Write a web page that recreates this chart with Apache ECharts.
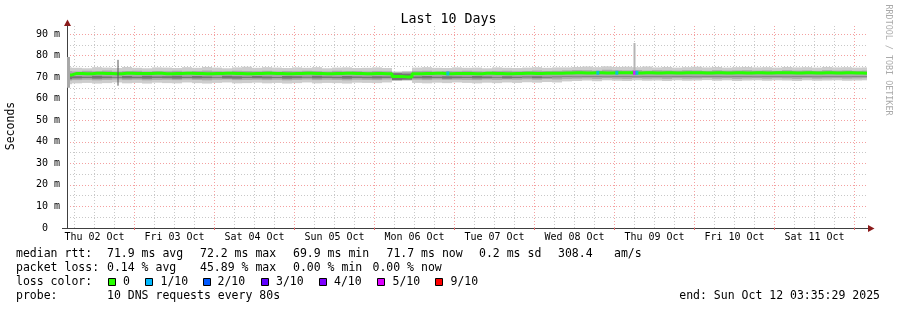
<!DOCTYPE html>
<html><head><meta charset="utf-8">
<script src="https://cdn.jsdelivr.net/npm/echarts@6/dist/echarts.min.js"></script>
<style>html,body{margin:0;padding:0;background:#fff}#c{width:897px;height:310px}</style>
</head><body><div id="c"></div>
<script>
// ---- data (hours since Thu 02 Oct 00:00, one sample every 3 h) ----
const startHour = 3.75, stepHours = 3;
const med = [
71.0, 71.7, 71.6, 71.8, 71.7, 71.6, 71.8, 71.7, 71.7, 71.8,
71.6, 71.7, 71.8, 71.7, 71.6, 71.7, 71.8, 71.7, 71.6, 71.7,
71.8, 71.7, 71.6, 71.7, 71.8, 71.7, 71.6, 71.7, 71.8, 71.7,
71.6, 71.7, 71.6, 70.3, 70.1, 71.6, 71.7, 71.8, 71.6, 71.7,
71.7, 71.6, 71.8, 71.7, 71.6, 71.7, 71.8, 71.7, 71.8, 71.8,
71.9, 72.0, 71.9, 72.0, 71.9, 72.0, 72.0, 71.9, 72.0, 71.9,
72.0, 71.9, 72.0, 72.0, 71.9, 72.0, 71.9, 72.0, 71.9, 72.0,
71.9, 72.0, 72.0, 71.9, 72.0, 71.9, 72.0, 71.9, 72.0, 71.9, 71.8];
const smokeHi = [
74.5, 74.3, 74.1, 74.6, 74.4, 74.2, 74.7, 74.3, 74.1, 74.5,
74.4, 74.2, 74.6, 74.3, 74.7, 74.4, 74.1, 74.5, 74.8, 74.3,
74.6, 74.4, 74.2, 74.5, 74.3, 74.6, 74.1, 74.4, 74.5, 74.2,
74.3, 74.5, 74.2, 72.6, 72.8, 74.4, 74.6, 74.3, 74.2, 74.5,
74.3, 74.4, 74.1, 74.5, 74.3, 74.2, 74.4, 74.6, 74.3, 74.5,
74.5, 74.7, 74.9, 74.6, 75.0, 74.7, 74.8, 74.6, 74.9, 74.5,
74.7, 74.4, 74.6, 74.8, 74.5, 74.7, 74.4, 74.6, 74.7, 74.5,
74.6, 74.4, 74.7, 74.5, 74.6, 74.4, 74.7, 74.5, 74.6, 74.4, 74.5];
const smokeLo = [
66.7, 67.1, 67.3, 67.0, 67.2, 67.5, 67.1, 67.3, 67.0, 67.4,
67.2, 67.1, 67.5, 67.2, 67.0, 67.3, 67.5, 67.1, 67.2, 67.4,
67.1, 67.3, 67.0, 67.2, 67.5, 67.1, 67.3, 67.2, 67.0, 67.4,
67.3, 67.2, 67.5, 68.2, 68.3, 67.3, 67.1, 67.4, 67.2, 67.5,
67.3, 67.1, 67.4, 67.2, 67.5, 67.3, 67.6, 67.4, 67.7, 67.5,
68.0, 68.2, 68.4, 68.1, 68.5, 68.3, 68.2, 68.5, 68.3, 68.4,
68.2, 68.5, 68.3, 68.4, 68.6, 68.3, 68.5, 68.2, 68.4, 68.5,
68.3, 68.5, 68.4, 68.2, 68.5, 68.3, 68.4, 68.5, 68.3, 68.4, 68.5];
const midHi = [
72.8, 72.6, 72.9, 72.7, 73.0, 72.6, 72.8, 72.9, 72.6, 72.8,
72.7, 72.9, 72.6, 72.8, 73.0, 72.7, 72.6, 72.9, 72.8, 72.7,
72.9, 72.6, 72.8, 72.7, 72.9, 72.8, 72.6, 72.9, 72.7, 72.8,
72.6, 72.8, 72.7, 72.2, 72.3, 72.8, 72.9, 72.6, 72.8, 72.7,
72.9, 72.7, 72.6, 72.8, 72.9, 72.7, 72.8, 73.0, 72.8, 72.9,
73.1, 73.3, 73.2, 73.0, 73.4, 73.2, 73.1, 73.3, 73.0, 73.2,
73.1, 73.0, 73.2, 73.1, 72.9, 73.2, 73.0, 73.1, 73.2, 73.0,
73.1, 72.9, 73.2, 73.0, 73.1, 72.9, 73.2, 73.0, 73.1, 72.9, 73.0];
const midLo = [
68.4, 68.6, 68.8, 68.5, 68.7, 68.9, 68.6, 68.8, 68.5, 68.7,
68.8, 68.6, 68.9, 68.7, 68.5, 68.8, 68.9, 68.6, 68.7, 68.8,
68.6, 68.8, 68.5, 68.7, 68.9, 68.6, 68.8, 68.7, 68.5, 68.8,
68.7, 68.6, 68.9, 68.6, 68.7, 68.8, 68.6, 68.9, 68.7, 68.8,
68.7, 68.6, 68.9, 68.7, 68.9, 68.8, 69.0, 68.8, 69.1, 68.9,
69.2, 69.3, 69.4, 69.2, 69.5, 69.3, 69.2, 69.5, 69.3, 69.4,
69.2, 69.5, 69.3, 69.4, 69.6, 69.3, 69.5, 69.2, 69.4, 69.5,
69.3, 69.5, 69.4, 69.2, 69.5, 69.3, 69.4, 69.5, 69.3, 69.4, 69.5];
const darkHi = [
71.0, 70.4, 70.2, 70.6, 70.3, 70.1, 70.5, 70.2, 70.6, 70.3,
70.4, 70.6, 70.2, 70.5, 70.3, 70.1, 70.6, 70.4, 70.2, 70.5,
70.3, 70.1, 70.5, 70.4, 70.2, 70.6, 70.3, 70.2, 70.5, 70.3,
70.2, 70.4, 70.3, 71.8, 71.6, 70.3, 70.5, 70.2, 70.4, 70.3,
70.2, 70.5, 70.3, 70.1, 70.4, 70.2, 70.3, 70.4, 70.2, 70.3,
70.4, 70.3, 70.5, 70.4, 70.3, 70.5, 70.4, 70.3, 70.5, 70.4,
70.3, 70.5, 70.4, 70.3, 70.5, 70.4, 70.3, 70.5, 70.4, 70.3,
70.5, 70.4, 70.3, 70.5, 70.4, 70.3, 70.5, 70.4, 70.3, 70.5, 70.4];
const darkLo = [
69.0, 69.4, 69.6, 69.3, 69.5, 69.7, 69.4, 69.5, 69.3, 69.6,
69.5, 69.3, 69.6, 69.4, 69.5, 69.7, 69.4, 69.3, 69.6, 69.5,
69.4, 69.6, 69.3, 69.5, 69.7, 69.4, 69.6, 69.5, 69.3, 69.6,
69.5, 69.4, 69.6, 68.6, 68.8, 69.5, 69.4, 69.6, 69.3, 69.5,
69.6, 69.4, 69.5, 69.7, 69.4, 69.6, 69.8, 69.5, 69.7, 69.9,
70.1, 70.0, 70.2, 70.1, 70.0, 70.2, 70.1, 70.0, 70.2, 70.1,
70.0, 70.2, 70.1, 70.0, 70.2, 70.1, 70.0, 70.2, 70.1, 70.0,
70.2, 70.1, 70.0, 70.2, 70.1, 70.0, 70.2, 70.1, 70.0, 70.2, 70.1];
// single-sample outliers
const spikeHours = [4.2, 19.05, 174.0];
const spikeLo = [65.0, 66.0, 71.0];
const spikeHi = [79.3, 78.0, 85.8];
// loss events on the median line
const lossHours = [118.0, 163.0, 168.7, 174.0, 174.7];
const lossRtt = [71.7, 72.0, 72.0, 72.0, 72.0];
const lossLevel = ['1/10', '1/10', '1/10', '5/10', '1/10'];
// legend / axis labels
const lossNames = ['0', '1/10', '2/10', '3/10', '4/10', '5/10', '9/10'];
const lossColors = ['#26ff00', '#00b8ff', '#0059ff', '#5e00ff', '#7e00ff', '#dd00ff', '#ff0000'];
const dayLabels = ['Thu 02 Oct','Fri 03 Oct','Sat 04 Oct','Sun 05 Oct','Mon 06 Oct','Tue 07 Oct','Wed 08 Oct','Thu 09 Oct','Fri 10 Oct','Sat 11 Oct'];
const noonHours = [12, 36, 60, 84, 108, 132, 156, 180, 204, 228];
const midnightHours = [24, 48, 72, 96, 120, 144, 168, 192, 216, 240];
const rttStats = ['71.9 ms avg', '72.2 ms max', '69.9 ms min', '71.7 ms now', '0.2 ms sd', '308.4', 'am/s'];
const lossStats = ['0.14 % avg', '45.89 % max', '0.00 % min', '0.00 % now'];
const probeText = '10 DNS requests every 80s';
const endText = 'end: Sun Oct 12 03:35:29 2025';

// ---- build ----
const hours = med.map((_, i) => startHour + stepHours * i);
const MONO = '"DejaVu Sans Mono", monospace';
const MAJOR = '#f4a0a0', MINOR = '#c8c8c8';

const vGrid = [];
for (let h = 6; h < startHour + 240; h += 6) vGrid.push({ xAxis: h, lineStyle: { color: h % 24 === 0 ? MAJOR : MINOR, type: [1, 2], width: 1 } });

function band(lo, hi, color) {
  return {
    type: 'custom', silent: true,
    data: hours.map((h, i) => [h, lo[i], hi[i]]),
    encode: { x: 0, y: [1, 2] },
    renderItem: (params, api) => {
      const h = api.value(0);
      const p1 = api.coord([h - stepHours / 2, api.value(2)]);
      const p2 = api.coord([h + stepHours / 2, api.value(1)]);
      const shape = echarts.graphic.clipRectByRect(
        { x: p1[0], y: p1[1], width: p2[0] - p1[0], height: p2[1] - p1[1] },
        { x: params.coordSys.x, y: params.coordSys.y, width: params.coordSys.width, height: params.coordSys.height });
      return shape && { type: 'rect', shape, style: { fill: color } };
    }
  };
}
const series = [];
series.push(band(smokeLo, smokeHi, '#cdcdcd'), band(midLo, midHi, '#a9a9a9'), band(darkLo, darkHi, '#747474'));
series.push({ type: 'line', data: hours.map((h, i) => [h, med[i]]), symbol: 'none', step: 'middle', silent: true,
  lineStyle: { color: '#26ff00', width: 3 },
  markLine: { z: 1, silent: true, symbol: ['none', 'none'], label: { show: false }, animation: false, data: vGrid } });
const spikeStyles = [{ color: '#a8a8a8', width: 3 }, { color: '#555555', width: 1 }, { color: '#b4b4b4', width: 2 }];
spikeHours.forEach((h, i) => series.push({ type: 'line', symbol: 'none', silent: true, data: [[h, spikeLo[i]], [h, spikeHi[i]]], lineStyle: spikeStyles[i] }));
series.push({ type: 'scatter', symbol: 'rect', symbolSize: [3, 4], silent: true, z: 5,
  data: lossHours.map((h, i) => ({ value: [h, lossRtt[i]], itemStyle: { color: lossColors[lossNames.indexOf(lossLevel[i])] } })) });

function txt(x, y, s, extra) {
  return { type: 'text', x, y, silent: true, style: Object.assign({ text: s, fontFamily: MONO, fontSize: 11.5, fill: '#000', align: 'left', verticalAlign: 'middle' }, extra || {}) };
}
const g = [];
g.push(txt(448.5, 19.5, 'Last 10 Days', { fontSize: 13.3, align: 'center' }));
g.push(Object.assign(txt(11, 126, 'Seconds', { align: 'center' }), { rotation: Math.PI / 2 }));
g.push(Object.assign(txt(888, 60, 'RRDTOOL / TOBI OETIKER', { align: 'center', fontSize: 8.4, fill: '#aaaaaa' }), { rotation: -Math.PI / 2 }));
g.push({ type: 'line', silent: true, shape: { x1: 62, y1: 228.5, x2: 869, y2: 228.5 }, style: { stroke: '#404040', lineWidth: 1 } });
g.push({ type: 'polygon', silent: true, shape: { points: [[868, 225], [874.5, 228.5], [868, 232]] }, style: { fill: '#8b1a1a' } });
g.push({ type: 'polygon', silent: true, shape: { points: [[64, 26], [67.5, 19.5], [71, 26]] }, style: { fill: '#8b1a1a' } });
const r1x = [107, 200, 293, 386.5, 479, 558, 614];
g.push(txt(16, 254, 'median rtt:'));
rttStats.forEach((s, i) => g.push(txt(r1x[i], 254, s)));
const r2x = [107, 200, 293, 372.5];
g.push(txt(16, 268, 'packet loss:'));
lossStats.forEach((s, i) => g.push(txt(r2x[i], 268, s)));
g.push(txt(16, 282, 'loss color:'));
const boxX = [108.5, 145.5, 203.5, 261.5, 319.5, 377.5, 435.5];
const lblX = [123, 160.5, 217.5, 276, 334, 392.5, 450.5];
lossNames.forEach((n, i) => {
  g.push({ type: 'rect', silent: true, shape: { x: boxX[i], y: 278.5, width: 7, height: 7 }, style: { fill: lossColors[i], stroke: '#000', lineWidth: 1 } });
  g.push(txt(lblX[i], 282, n));
});
g.push(txt(16, 296, 'probe:'));
g.push(txt(107, 296, probeText));
g.push(txt(880, 296, endText, { align: 'right' }));

const chart = echarts.init(document.getElementById('c'), null, { renderer: 'canvas' });
chart.setOption({
  backgroundColor: '#ffffff',
  animation: false,
  grid: { left: 67, top: 26, width: 800, height: 202, outerBoundsMode: 'none' },
  xAxis: {
    type: 'value', min: startHour, max: startHour + 240,
    axisLine: { show: true, lineStyle: { color: '#404040', width: 1 } },
    splitLine: { show: false },
    axisTick: { show: true, customValues: midnightHours, length: 2, lineStyle: { color: '#e07070' } },
    axisLabel: { customValues: noonHours, margin: 4, fontFamily: MONO, fontSize: 10, color: '#000',
      formatter: v => dayLabels[Math.round((v - 12) / 24)] || '' }
  },
  yAxis: {
    type: 'value', min: 0, max: 93.7, interval: 5,
    axisLine: { show: true, lineStyle: { color: '#404040', width: 1 } },
    axisTick: { show: false },
    axisLabel: { margin: 7, fontFamily: MONO, fontSize: 10, color: '#000', showMaxLabel: false,
      formatter: v => (Math.abs(v % 10) < 1e-6 ? (v === 0 ? '0  ' : v + ' m') : '') },
    splitLine: { show: true, showMaxLine: false, lineStyle: { color: [MAJOR, MINOR], type: [1, 2], width: 1 } }
  },
  series,
  graphic: g
});
</script>
</body></html>
